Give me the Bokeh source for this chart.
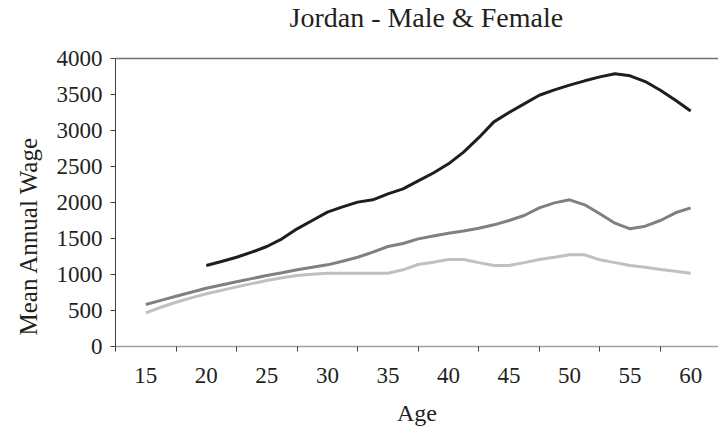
from bokeh.plotting import figure
from bokeh.models import FixedTicker, Range1d, Span, Label, Title
from bokeh.embed import file_html
from bokeh.resources import INLINE

# Data
ages = [15, 16.25, 17.5, 18.75, 20, 21.25, 22.5, 23.75, 25, 26.25, 27.5, 28.75,
        30, 31.25, 32.5, 33.75, 35, 36.25, 37.5, 38.75, 40, 41.25, 42.5, 43.75,
        45, 46.25, 47.5, 48.75, 50, 51.25, 52.5, 53.75, 55, 56.25, 57.5, 58.75, 60]

ages_black = [20, 21.25, 22.5, 23.75, 25, 26.25, 27.5, 28.75, 30, 31.25, 32.5, 33.75,
              35, 36.25, 37.5, 38.75, 40, 41.25, 42.5, 43.75, 45, 46.25, 47.5, 48.75,
              50, 51.25, 52.5, 53.75, 55, 56.25, 57.5, 58.75, 60]
wage_black = [1125, 1180, 1240, 1310, 1389, 1495, 1634, 1750, 1866, 1940, 2005, 2037,
              2120, 2190, 2300, 2410, 2537, 2700, 2900, 3120, 3250, 3370, 3490, 3565,
              3630, 3690, 3745, 3787, 3760, 3680, 3560, 3420, 3270]

wage_darkgrey = [583, 640, 697, 753, 810, 855, 900, 943, 986, 1025, 1065, 1100,
                 1134, 1185, 1240, 1310, 1389, 1430, 1495, 1535, 1574, 1605, 1643, 1690,
                 1750, 1819, 1926, 1995, 2037, 1968, 1843, 1713, 1634, 1671, 1750, 1857, 1926]

wage_lightgrey = [468, 545, 615, 675, 732, 780, 828, 873, 917, 955, 986, 1005,
                  1018, 1018, 1018, 1018, 1018, 1065, 1139, 1170, 1208, 1208, 1165, 1125,
                  1125, 1165, 1208, 1240, 1273, 1273, 1204, 1165, 1125, 1100, 1070, 1045, 1018]

x_tick_labels = [15, 20, 25, 30, 35, 40, 45, 50, 55, 60]
x_tick_marks = [12.5, 17.5, 22.5, 27.5, 32.5, 37.5, 42.5, 47.5, 52.5, 57.5, 62.5]
y_ticks = [0, 500, 1000, 1500, 2000, 2500, 3000, 3500, 4000]
y_max = 4000
title_text = "Jordan - Male & Female"
x_title = "Age"
y_title = "Mean Annual Wage"

FONT = "Liberation Serif"
TEXT = "#231f20"

# The frame reaches the top of the canvas so the title can sit inside it;
# the plot area proper ends at y_max (top border line).
FRAME_H = 346
PLOT_H = 288
p = figure(width=718, height=437, output_backend="svg", toolbar_location=None,
           x_range=Range1d(12.5, 62.3), y_range=Range1d(0, y_max * FRAME_H / PLOT_H),
           min_border_left=114, min_border_right=0, min_border_top=0,
           min_border_bottom=91)
p.outline_line_color = None
p.grid.visible = False
p.background_fill_color = "white"
p.border_fill_color = "white"

p.add_layout(Label(x=174, y=FRAME_H - 17, x_units="screen", y_units="screen",
                   text=title_text, text_font=FONT, text_font_size="28px",
                   text_color=TEXT, text_baseline="alphabetic", text_align="left"))

# top border line
p.add_layout(Span(location=y_max, dimension="width", line_color="#707070", line_width=1.5))

# lines
p.line(ages, wage_lightgrey, line_color="#c0c0c0", line_width=3)
p.line(ages, wage_darkgrey, line_color="#808080", line_width=3)
p.line(ages_black, wage_black, line_color="#1e1e1e", line_width=3)

# x axis
xa = p.xaxis[0]
xa.ticker = FixedTicker(ticks=x_tick_labels, minor_ticks=x_tick_marks)
xa.major_tick_line_color = None
xa.major_tick_out = 0
xa.major_tick_in = 0
xa.minor_tick_out = 5
xa.minor_tick_in = 0
xa.minor_tick_line_color = "#404040"
xa.axis_line_color = "#a0a0a0"
xa.axis_line_width = 1.5
xa.major_label_text_font = FONT
xa.major_label_text_font_size = "23px"
xa.major_label_text_color = TEXT
xa.major_label_standoff = 16
xa.axis_label = x_title
xa.axis_label_text_font = FONT
xa.axis_label_text_font_size = "24px"
xa.axis_label_text_font_style = "normal"
xa.axis_label_text_color = TEXT
xa.axis_label_standoff = 14

# y axis
ya = p.yaxis[0]
ya.ticker = FixedTicker(ticks=y_ticks)
ya.bounds = (0, y_max)
ya.minor_tick_line_color = None
ya.major_tick_out = 5
ya.major_tick_in = 0
ya.major_tick_line_color = "#404040"
ya.axis_line_color = "#404040"
ya.major_label_text_font = FONT
ya.major_label_text_font_size = "23px"
ya.major_label_text_color = TEXT
ya.major_label_standoff = 8

# y axis title, placed from the bottom of the frame
p.add_layout(Title(text=y_title, align="left", offset=11, standoff=24,
                   text_font=FONT, text_font_size="25px", text_font_style="normal",
                   text_color=TEXT), "left")

open("out.html", "w").write(file_html(p, INLINE))
